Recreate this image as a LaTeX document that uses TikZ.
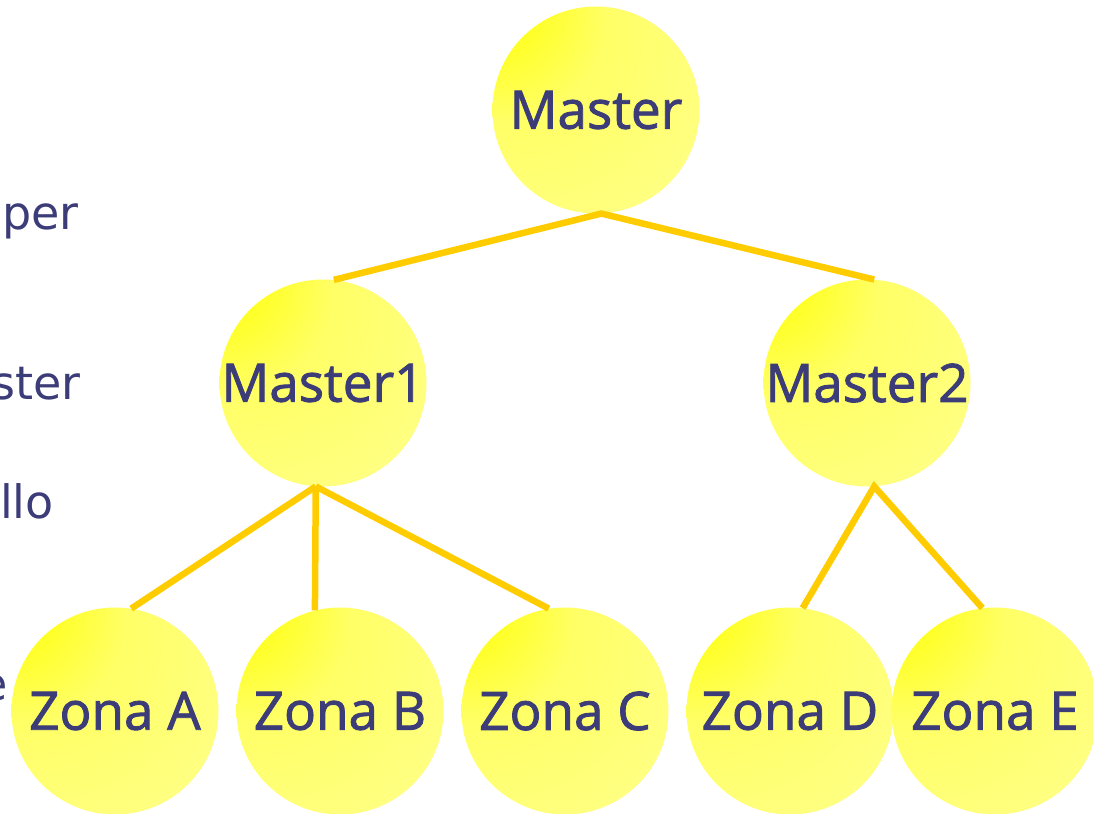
\documentclass[tikz,border=0pt]{standalone}
\usepackage{fontspec}
\usepackage{tikz}
\newfontfamily\ballfont[FakeBold=1.6]{Open Sans}
\newfontfamily\sidefont{DejaVu Sans}
\definecolor{inkblue}{HTML}{3C3C78}
\definecolor{linkgold}{HTML}{FFCC00}
\definecolor{ballhi}{HTML}{FFFF08}
\definecolor{ballmid}{HTML}{FFFF66}
\definecolor{balllow}{HTML}{FFFF8A}
\definecolor{balledge}{HTML}{FFFF9C}
\pgfdeclareradialshading{sunball}{\pgfpoint{-30bp}{30bp}}{color(0bp)=(ballhi); color(6bp)=(ballhi); color(25bp)=(ballmid); color(55bp)=(balllow); color(82bp)=(balledge); color(100bp)=(balledge)}
\tikzset{node distance=225pt, auto,
  ball/.style={circle, minimum size=207pt, inner sep=0pt, shading=sunball,
    text=inkblue, font=\ballfont\fontsize{53}{60}\selectfont},
  side/.style={anchor=base east, inner sep=0pt, text=inkblue,
    font=\sidefont\fontsize{46}{52}\selectfont},
  link/.style={draw=linkgold, line width=6.5pt}}

\begin{document}
\begin{tikzpicture}[x=1pt, y=-1pt]
        \useasboundingbox (0,0) rectangle (1093,814);
        \clip (0,0) rectangle (1093,814);

        \node[side] (per)  at (79,229) {per};
        \node[side] (ster) at (81,399) {ster};
        \node[side] (llo)  at (54,518) {llo};
        \node[side] (e)    at (8,700)  {e};

        \node[ball] (Master) at (596,110) {Master};
        \node[ball] (Master1) at (323,383) {Master1};
        \node[ball] (Master2) at (867,383) {Master2};

        \node[ball] (ZA) at (115,711) {Zona A};
        \node[ball] (ZB) [right of=ZA] {Zona B};
        \node[ball] (ZC) [right of=ZB] {Zona C};
        \node[ball] (ZD) [right of=ZC] {Zona D};
        \node[ball] (ZE) at (995,711) {Zona E};

        \draw[link] (Master1.84) to (Master.-87) to (Master2.86);

        \draw[link] (ZA.81) to (Master1.-94);
        \draw[link] (Master1.-94) to (ZB.104);
        \draw[link] (Master1.-94) to (ZC.99);

        \draw[link] (ZD.83) to (Master2.-86) to (ZE.97);
      \end{tikzpicture}
\end{document}
